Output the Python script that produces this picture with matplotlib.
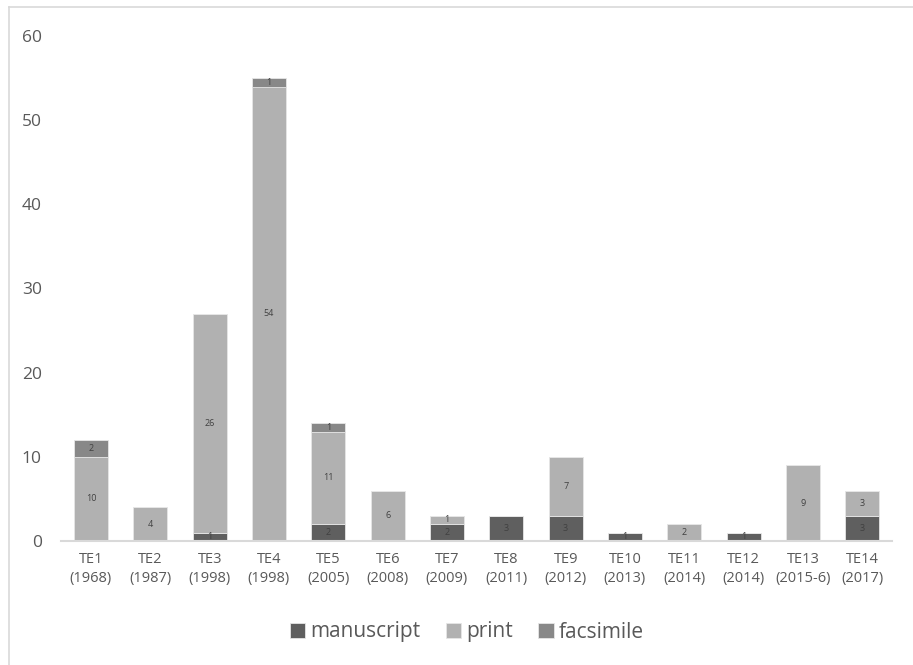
import matplotlib
matplotlib.use("Agg")
import matplotlib.pyplot as plt
from matplotlib.lines import Line2D
import numpy as np

categories = ["TE1\n(1968)", "TE2\n(1987)", "TE3\n(1998)", "TE4\n(1998)", "TE5\n(2005)",
              "TE6\n(2008)", "TE7\n(2009)", "TE8\n(2011)", "TE9\n(2012)", "TE10\n(2013)",
              "TE11\n(2014)", "TE12\n(2014)", "TE13\n(2015-6)", "TE14\n(2017)"]
manuscript = [0, 0, 1, 0, 2, 0, 2, 3, 3, 1, 0, 1, 0, 3]
print_ = [10, 4, 26, 54, 11, 6, 1, 0, 7, 0, 2, 0, 9, 3]
facsimile = [2, 0, 0, 1, 1, 0, 0, 0, 0, 0, 0, 0, 0, 0]
yticks = [0, 10, 20, 30, 40, 50, 60]

plt.rcParams['font.family'] = ['Open Sans', 'DejaVu Sans']
W, H = 913, 665
fig = plt.figure(figsize=(W / 100, H / 100), dpi=100)
ax = fig.add_axes([61.3 / W, 1 - 541 / H, (892 - 61.3) / W, (541 - 36) / H])

text_col = "#595959"
series = [("manuscript", manuscript, "#5f5f5f"),
          ("print", print_, "#b1b1b1"),
          ("facsimile", facsimile, "#888888")]
x = np.arange(len(categories))
bottom = np.zeros(len(categories))
for name, vals, col in series:
    vals = np.array(vals, dtype=float)
    bars = ax.bar(x, vals, width=0.575, bottom=bottom, color=col, label=name,
                  edgecolor="#e6e6e6", linewidth=0.6, zorder=2)
    for xi, b, v in zip(x, bottom, vals):
        if v > 0:
            ax.text(xi, b + v / 2, f"{int(v)}", ha="center", va="center",
                    fontsize=6.5, color="#404040", zorder=3)
    bottom += vals

ax.set_xlim(-0.5, len(categories) - 0.5)
ax.set_ylim(0, 60)
ax.set_yticks(yticks)
ax.set_yticklabels([str(t) for t in yticks], fontsize=12.5, color=text_col)
ax.set_xticks(x)
ax.set_xticklabels(categories, fontsize=10.5, color=text_col, linespacing=1.35)
ax.tick_params(axis="both", length=0)
ax.tick_params(axis="y", pad=14)
ax.tick_params(axis="x", pad=8)
for s in ["top", "right", "left"]:
    ax.spines[s].set_visible(False)
ax.spines["bottom"].set_color("#d9d9d9")
ax.spines["bottom"].set_linewidth(1.5)

leg = fig.legend(loc="center", bbox_to_anchor=(467 / W, 1 - 632 / H), ncol=3,
                 frameon=False, fontsize=15, handlelength=0.75, handleheight=0.75,
                 handletextpad=0.25, columnspacing=1.2, labelcolor=text_col)

# chart border (left and top)
fig.add_artist(Line2D([8.5 / W, 8.5 / W], [0, 1 - 7 / H], color="#d9d9d9", lw=1.2,
                      transform=fig.transFigure))
fig.add_artist(Line2D([8.5 / W, 1], [1 - 7 / H, 1 - 7 / H], color="#d9d9d9", lw=1.2,
                      transform=fig.transFigure))

fig.savefig("out.png", dpi=100)
